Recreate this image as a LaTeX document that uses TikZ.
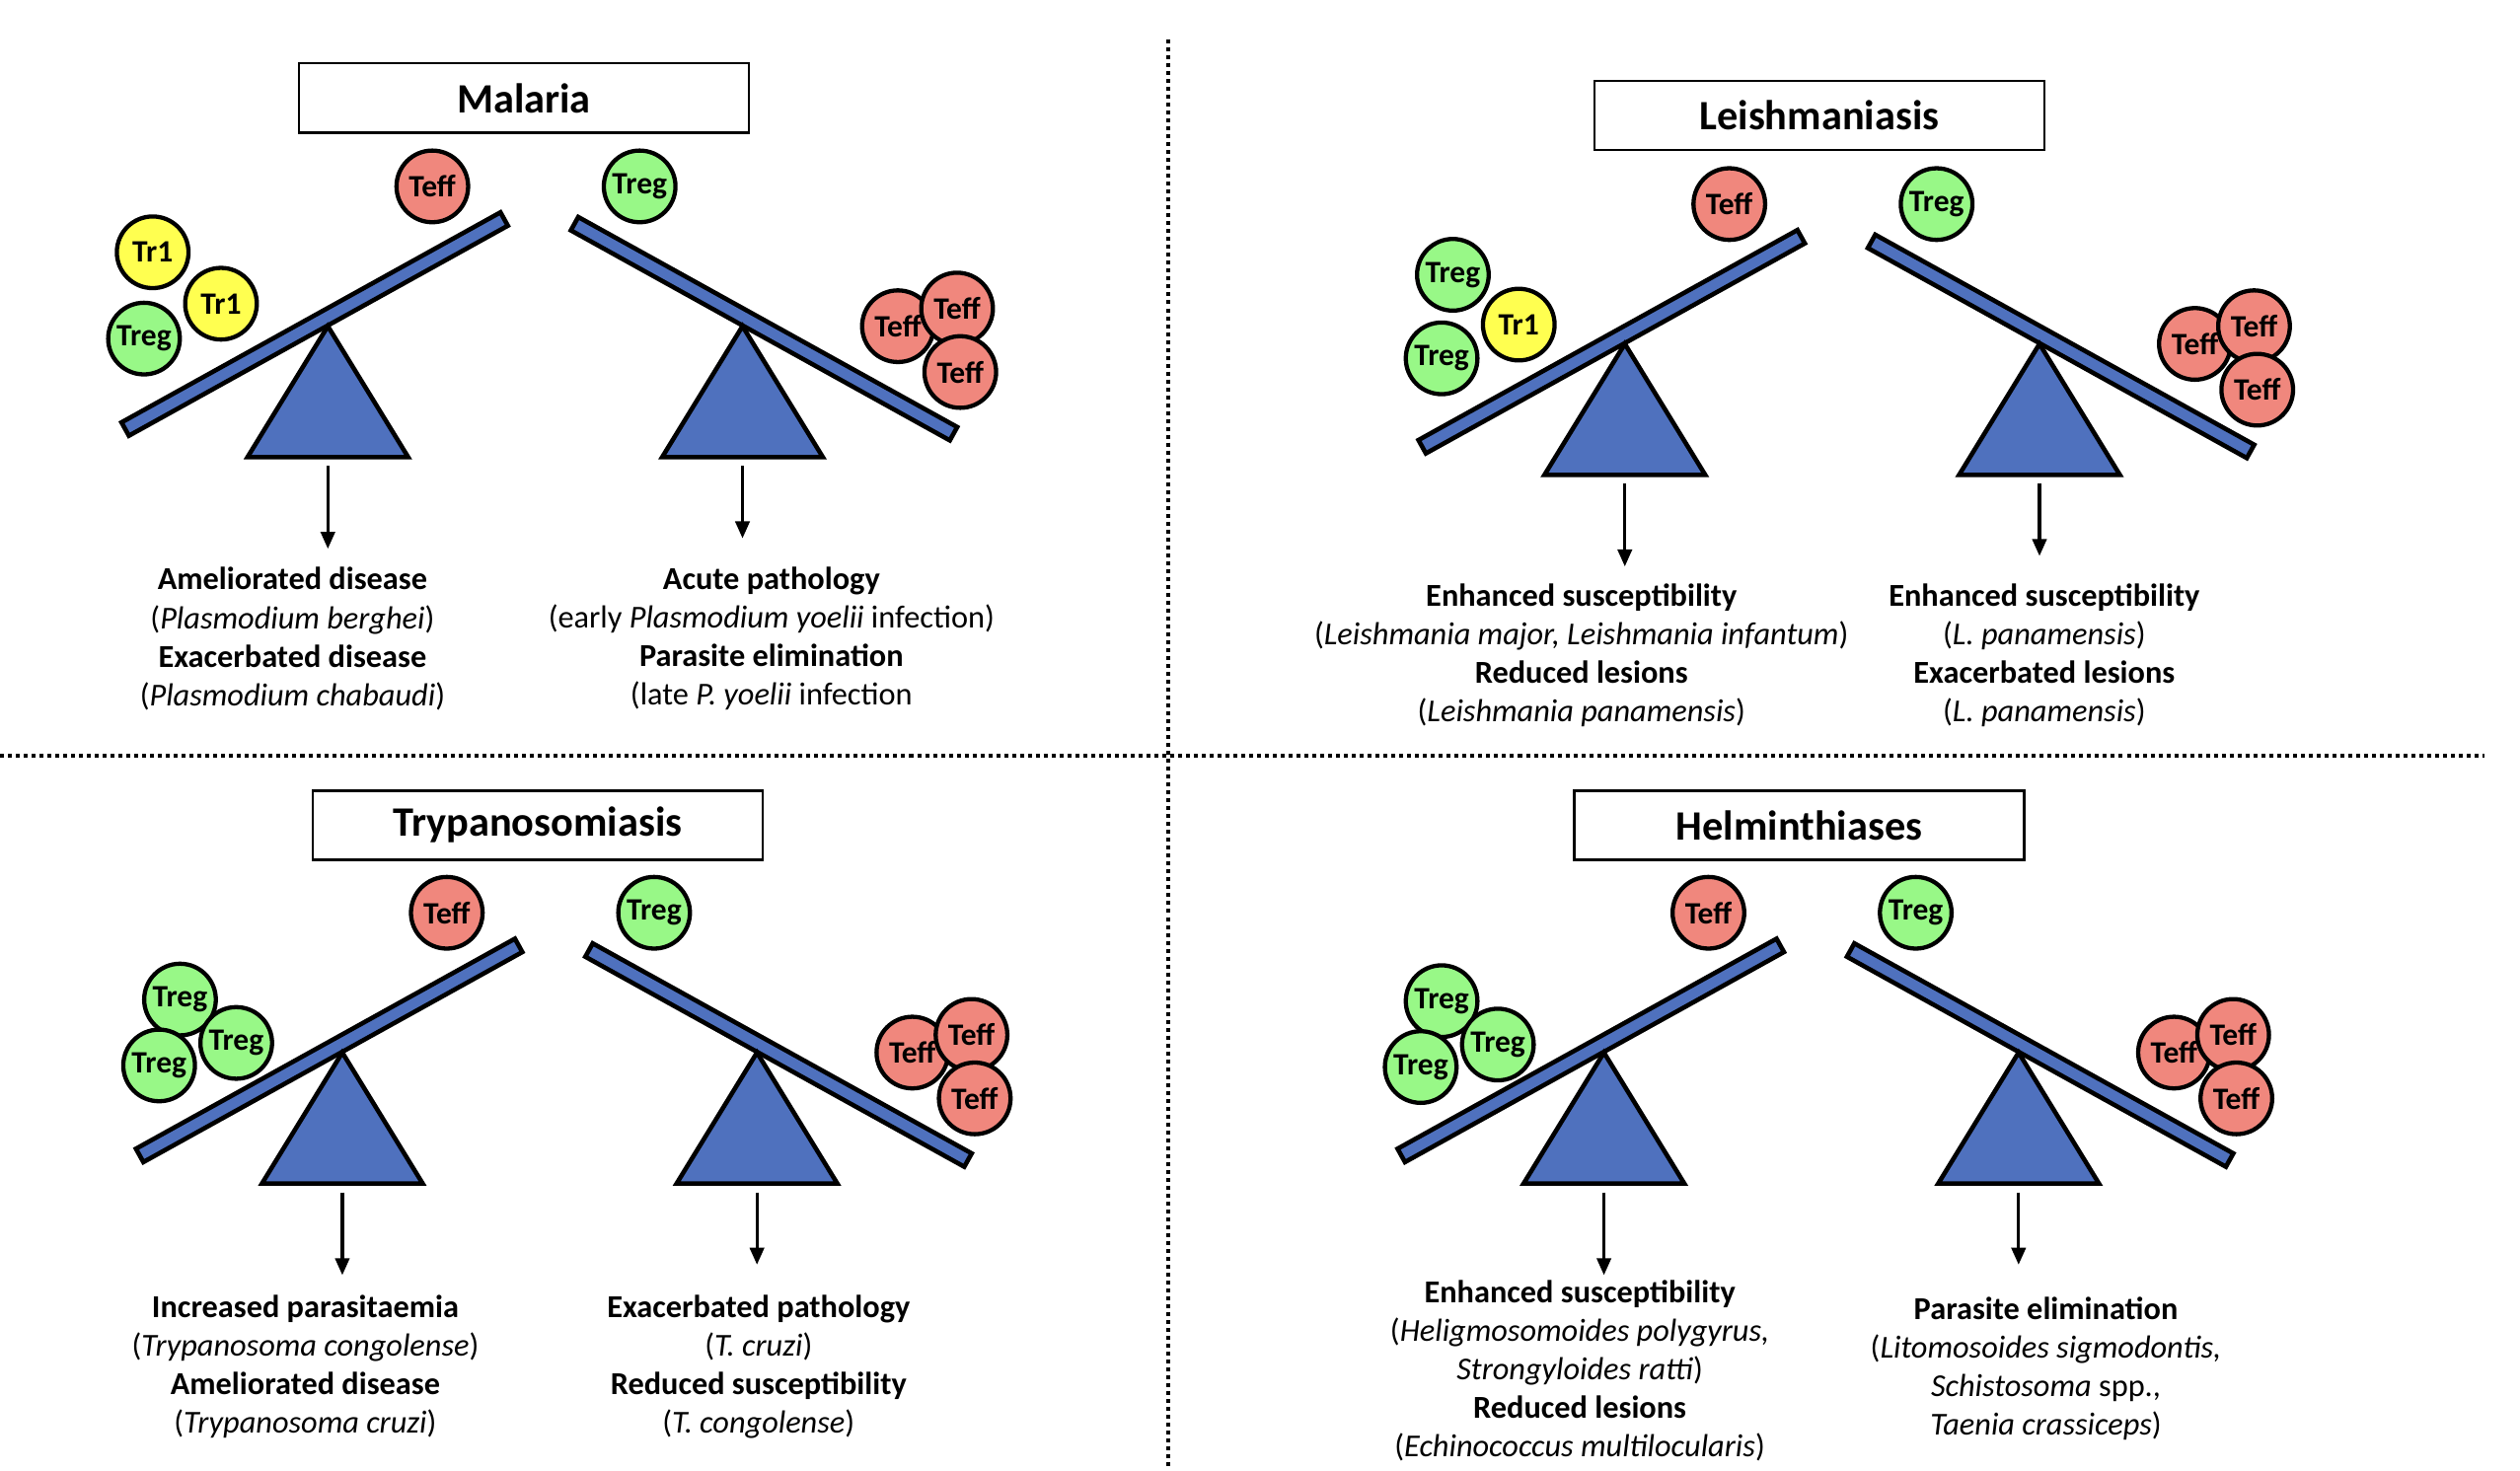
\documentclass[tikz,border=0pt]{standalone}
\usepackage{fontspec}
\setmainfont{Carlito}
\usetikzlibrary{arrows.meta}
\definecolor{seesawblue}{HTML}{4F71BE}
\definecolor{teffred}{HTML}{F0877D}
\definecolor{treggreen}{HTML}{98F887}
\definecolor{tronecol}{HTML}{FFFF50}
\tikzset{
  beam/.style={draw=black,fill=seesawblue,line width=1.6pt,line join=miter},
  fulcrum/.style={draw=black,fill=seesawblue,line width=1.6pt,line join=miter},
  arr/.style={line width=1.1pt,-{Triangle[length=6pt,width=5pt]}},
  cell/.style={circle,draw=black,line width=1.5pt,minimum size=0.892cm,inner sep=0pt,
    font=\fontsize{11pt}{13pt}\selectfont\bfseries},
  teff/.style={cell,fill=teffred},
  treg/.style={cell,fill=treggreen},
  trone/.style={cell,fill=tronecol},
  titlebox/.style={draw=black,line width=0.8pt,minimum width=5.6cm,minimum height=0.86cm,
    inner sep=0pt,font=\fontsize{14.8pt}{17pt}\selectfont\bfseries},
  outcome/.style={align=center,inner sep=0pt,font=\fontsize{11.3pt}{13.66pt}\selectfont},
  sep/.style={line width=1.4pt,dash pattern=on 1.4pt off 1.4pt},
  scales/.pic={
    % left seesaw
    \draw[beam] (-128.4,59.85) -- (107.4,-70.85) -- (112.0,-62.55) -- (-123.8,68.15) -- cycle;
    \draw[fulcrum] (0,0) -- (50,81.5) -- (-50,81.5) -- cycle;
    % right seesaw
    \draw[beam] (155.8,-67.95) -- (391.6,62.75) -- (387.0,71.05) -- (151.2,-59.65) -- cycle;
    \draw[fulcrum] (258,0) -- (308,81.5) -- (208,81.5) -- cycle;
    % arrows
    \coordinate (-aLs) at (0,87);
    \coordinate (-aLe) at (0,138.5);
    \coordinate (-aRs) at (258,87);
    \coordinate (-aRe) at (258,132);
    \draw[arr] (-aLs) -- (-aLe);
    \draw[arr] (-aRs) -- (-aRe);
    % cells
    \node[teff] (-teffL) at (65,-87) {Teff};
    \node[treg] (-tregR) at (194,-87) {Treg};
    \node[teff] (-teffA) at (354.7,0) {Teff};
    \node[teff] (-teffB) at (391.5,-11) {Teff};
    \node[teff] (-teffC) at (393.5,28.5) {Teff};
  }
}
\begin{document}
\begin{tikzpicture}[x=0.02cm,y=-0.02cm]
\useasboundingbox (0,0) rectangle (1568,915);
% separators
\coordinate (vtop) at (727,24.6);
\coordinate (vbot) at (727,915);
\coordinate (hleft) at (0,470.3);
\coordinate (hright) at (1546,470.3);
\draw[sep] (vtop) -- (vbot);
\draw[sep] (hleft) -- (hright);

% ---------------- Malaria ----------------
\node[titlebox] (malaria) at (326,61) {Malaria};
\pic (m) at (204,203) {scales};
\begin{scope}[shift={(204,203)}]
  \node[trone] (m-c1) at (-109,-46) {Tr1};
  \node[trone] (m-c2) at (-66.5,-14) {Tr1};
  \node[treg]  (m-c3) at (-114.4,7.7) {Treg};
\end{scope}
\node[outcome] (m-outL) at (182,397.5) {\textbf{Ameliorated disease}\\(\textit{Plasmodium berghei})\\\textbf{Exacerbated disease}\\(\textit{Plasmodium chabaudi})};
\node[outcome] (m-outR) at (480,397.5) {\textbf{Acute pathology}\\(early \textit{Plasmodium yoelii} infection)\\\textbf{Parasite elimination}\\(late \textit{P. yoelii} infection};

% ---------------- Leishmaniasis ----------------
\node[titlebox] (leish) at (1132,72) {Leishmaniasis};
\pic (l) at (1011,214) {scales};
\begin{scope}[shift={(1011,214)}]
  \node[treg]  (l-c1) at (-107,-43) {Treg};
  \node[trone] (l-c2) at (-66,-12) {Tr1};
  \node[treg]  (l-c3) at (-114,9) {Treg};
\end{scope}
\node[outcome] (l-outL) at (984,408) {\textbf{Enhanced susceptibility}\\(\textit{Leishmania major, Leishmania infantum})\\\textbf{Reduced lesions}\\(\textit{Leishmania panamensis})};
\node[outcome] (l-outR) at (1272,408) {\textbf{Enhanced susceptibility}\\(\textit{L. panamensis})\\\textbf{Exacerbated lesions}\\(\textit{L. panamensis})};

% ---------------- Trypanosomiasis ----------------
\node[titlebox] (tryp) at (334.5,513.5) {Trypanosomiasis};
\pic (t) at (213,655) {scales};
\begin{scope}[shift={(213,655)}]
  \node[treg] (t-c1) at (-101,-33) {Treg};
  \node[treg] (t-c2) at (-66,-6) {Treg};
  \node[treg] (t-c3) at (-114,8) {Treg};
\end{scope}
\node[outcome] (t-outL) at (190,850.5) {\textbf{Increased parasitaemia}\\(\textit{Trypanosoma congolense})\\\textbf{Ameliorated disease}\\(\textit{Trypanosoma cruzi})};
\node[outcome] (t-outR) at (472,850.5) {\textbf{Exacerbated pathology}\\(\textit{T. cruzi})\\\textbf{Reduced susceptibility}\\(\textit{T. congolense})};

% ---------------- Helminthiases ----------------
\node[titlebox] (helm) at (1119.5,513.5) {Helminthiases};
\pic (h) at (998,655) {scales};
\begin{scope}[shift={(998,655)}]
  \node[treg] (h-c1) at (-101,-32) {Treg};
  \node[treg] (h-c2) at (-66,-5) {Treg};
  \node[treg] (h-c3) at (-114,9) {Treg};
\end{scope}
\node[outcome] (h-outL) at (983,853) {\textbf{Enhanced susceptibility}\\(\textit{Heligmosomoides polygyrus,}\\\textit{Strongyloides ratti})\\\textbf{Reduced lesions}\\(\textit{Echinococcus multilocularis})};
\node[outcome] (h-outR) at (1273,851.5) {\textbf{Parasite elimination}\\(\textit{Litomosoides sigmodontis,}\\\textit{Schistosoma} spp.,\\\textit{Taenia crassiceps})};
\end{tikzpicture}
\end{document}
